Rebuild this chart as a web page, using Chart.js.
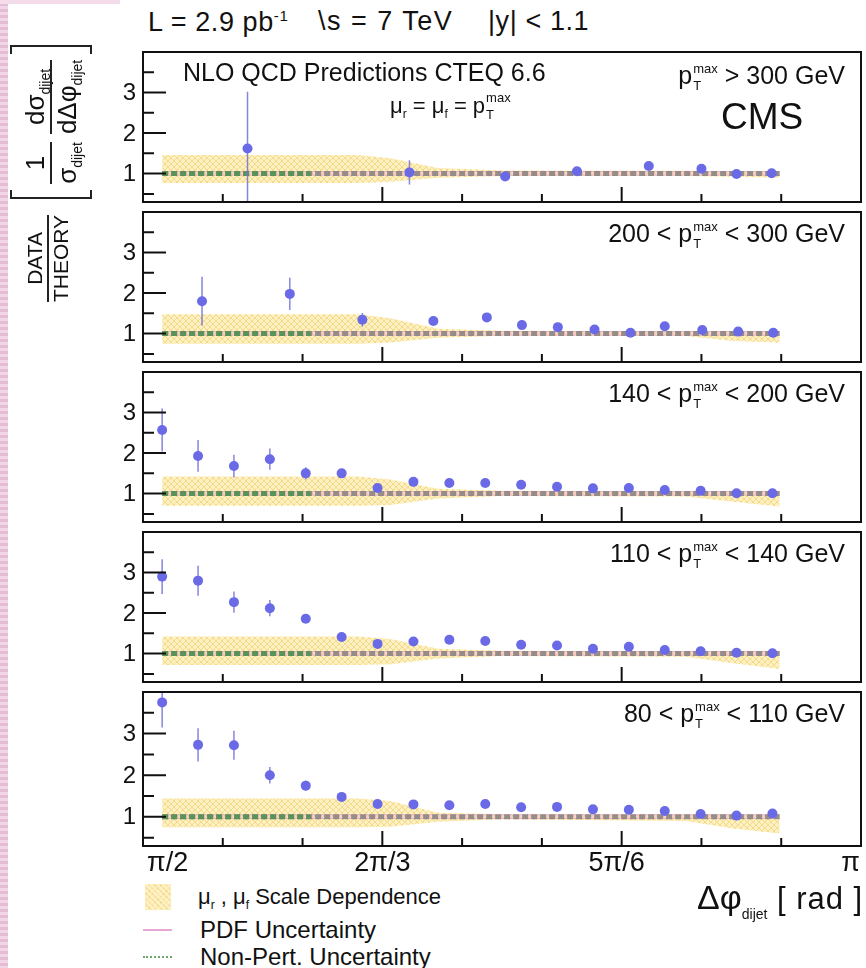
<!DOCTYPE html>
<html>
<head>
<meta charset="utf-8">
<script src="https://cdn.jsdelivr.net/npm/chart.js@4.4.0/dist/chart.umd.min.js"></script>
<style>
body { margin: 0; background: #fff; font-family: "Liberation Sans", Arial, sans-serif; color: #111; }
#page { position: relative; width: 866px; height: 968px; overflow: hidden; background: #fff; }
#edge { position: absolute; left: 0; top: 0; width: 8px; height: 968px;
  background: repeating-linear-gradient(to bottom, #f3d6e6 0 3px, #e4bcd6 3px 6px); }
#edgeTop { position: absolute; left: 0; top: 0; width: 120px; height: 4px; background: #f4dcea; }
canvas { position: absolute; left: 0; }
.t { position: absolute; white-space: nowrap; line-height: 1; }
.ss { display: inline-block; vertical-align: -6px; font-size: 13px; line-height: 17px; margin-left: 1px; }
.ss i { display: block; font-style: normal; }
sub.s { font-size: 12px; vertical-align: -5px; line-height: 0; }
#ytitle { position: absolute; left: -124px; top: 85px; width: 350px; height: 84px;
  transform: rotate(-90deg); display: flex; align-items: center; font-size: 21px; }
.frac { display: inline-flex; flex-direction: column; align-items: center; line-height: 22px; }
.frac .bar { width: 100%; height: 2px; background: #222; margin: 1px 0; }
.brk { display: inline-block; width: 7px; height: 78px; border: 2px solid #222; }
.brk.l { border-right: none; margin: 0 6px 0 16px; }
.brk.r { border-left: none; margin-left: 6px; }
.big sub.s { font-size: 14px; vertical-align: -6px; }
.leg { position: absolute; left: 143px; font-size: 24px; line-height: 1; white-space: nowrap; }
</style>
</head>
<body>
<div id="page">
  <div id="edge"></div>
  <div id="edgeTop"></div>

  <canvas id="c1" width="866" height="160" style="top:47px"></canvas>
  <canvas id="c2" width="866" height="160" style="top:207px"></canvas>
  <canvas id="c3" width="866" height="160" style="top:367px"></canvas>
  <canvas id="c4" width="866" height="160" style="top:527px"></canvas>
  <canvas id="c5" width="866" height="196" style="top:687px"></canvas>

  <div class="t" style="left:148px; top:8px; font-size:27px; letter-spacing:0.6px">L = 2.9 pb<sup style="font-size:15px">-1</sup></div>
  <div class="t" style="left:318px; top:8px; font-size:27px; letter-spacing:1.5px">\s = 7 TeV</div>
  <div class="t" style="left:488px; top:8px; font-size:27px; letter-spacing:0.6px">|y| &lt; 1.1</div>

  <div class="t" style="left:183px; top:60px; font-size:25px">NLO QCD Predictions CTEQ 6.6</div>
  <div class="t" style="left:390px; top:89px; font-size:22px">μ<sub class="s">r</sub> = μ<sub class="s">f</sub> = p<span class="ss"><i>max</i><i>T</i></span></div>
  <div class="t" style="left:721px; top:98px; font-size:37px">CMS</div>

  <div class="t" style="right:21px; top:60px; font-size:25px">p<span class="ss"><i>max</i><i>T</i></span> &gt; 300 GeV</div>
  <div class="t" style="right:21px; top:218px; font-size:25px">200 &lt; p<span class="ss"><i>max</i><i>T</i></span> &lt; 300 GeV</div>
  <div class="t" style="right:21px; top:378px; font-size:25px">140 &lt; p<span class="ss"><i>max</i><i>T</i></span> &lt; 200 GeV</div>
  <div class="t" style="right:21px; top:538px; font-size:25px">110 &lt; p<span class="ss"><i>max</i><i>T</i></span> &lt; 140 GeV</div>
  <div class="t" style="right:21px; top:698px; font-size:25px">80 &lt; p<span class="ss"><i>max</i><i>T</i></span> &lt; 110 GeV</div>

  <div id="ytitle">
    <span class="frac" style="position:relative; top:-3px"><span>DATA</span><span class="bar"></span><span>THEORY</span></span>
    <span class="brk l"></span>
    <span class="frac big" style="font-size:26px; line-height:28px"><span>1</span><span class="bar"></span><span>σ<sub class="s">dijet</sub></span></span>
    <span class="frac big" style="font-size:26px; line-height:28px; margin-left:8px"><span>dσ<sub class="s">dijet</sub></span><span class="bar"></span><span>dΔφ<sub class="s">dijet</sub></span></span>
    <span class="brk r"></span>
  </div>

  <div class="t" style="left:697px; top:880px; font-size:34px">Δφ<sub class="s" style="font-size:14px; vertical-align:-10px">dijet</sub> <span style="font-size:31px; letter-spacing:1px">[ rad ]</span></div>

  <div class="leg" style="top:884px">
    <span style="position:absolute; left:2px; top:0; width:26px; height:26px;
      background: repeating-linear-gradient(45deg, rgba(240,205,100,0.55) 0 1px, rgba(253,238,180,0.8) 1px 4px),
                  repeating-linear-gradient(-45deg, rgba(240,205,100,0.55) 0 1px, rgba(253,238,180,0.0) 1px 4px);"></span>
    <span style="position:absolute; left:55px; top:2px; font-size:22px">μ<sub class="s">r</sub> , μ<sub class="s">f</sub> Scale Dependence</span>
  </div>
  <div class="leg" style="top:918px">
    <span style="position:absolute; left:0; top:11px; width:29px; height:2px; background:#e7a6d6"></span>
    <span style="position:absolute; left:57px; top:0">PDF Uncertainty</span>
  </div>
  <div class="leg" style="top:945px">
    <span style="position:absolute; left:0; top:11px; width:29px; border-top:2px dotted #6aa86a"></span>
    <span style="position:absolute; left:57px; top:0">Non-Pert. Uncertainty</span>
  </div>
</div>

<script>
// x in degrees (pi/2 = 90, pi = 180)
const xMajor = [120, 150];
const xMinor = [100, 110, 130, 140, 160, 170];
const xLabelVals = [90, 120, 150, 180];
const xLabels = ['π/2', '2π/3', '5π/6', 'π'];
const yMajor = [1, 2, 3];
const yMinor = [0.5, 1.5, 2.5, 3.5];

// common bin centres for the three lower panels
const binX = [92.4, 96.9, 101.4, 105.9, 110.4, 114.9, 119.4, 123.9, 128.4, 132.9, 137.4, 141.9, 146.4, 150.9, 155.4, 159.9, 164.4, 168.9];

// pT > 300
const p1X = [103.1, 123.4, 135.4, 144.4, 153.4, 160.0, 164.4, 168.8];
const p1Y = [1.62, 1.03, 0.93, 1.06, 1.19, 1.12, 0.99, 1.01];
const p1Err = [1.4, 0.3, 0.08, 0.05, 0.05, 0.05, 0.04, 0.04];
// 200 - 300
const p2X = [97.4, 108.4, 117.5, 126.4, 133.1, 137.5, 142.0, 146.6, 151.1, 155.4, 160.1, 164.6, 169.0];
const p2Y = [1.80, 1.98, 1.34, 1.31, 1.40, 1.21, 1.16, 1.10, 1.02, 1.18, 1.09, 1.05, 1.02];
const p2Err = [0.6, 0.4, 0.17, 0.06, 0.06, 0.05, 0.04, 0.04, 0.04, 0.04, 0.04, 0.04, 0.04];
// 140 - 200
const p3Y = [2.57, 1.93, 1.68, 1.85, 1.50, 1.50, 1.14, 1.29, 1.26, 1.26, 1.22, 1.17, 1.13, 1.14, 1.09, 1.07, 1.01, 1.01];
const p3Err = [0.53, 0.39, 0.28, 0.26, 0.15, 0.08, 0.07, 0.06, 0.05, 0.05, 0.05, 0.05, 0.04, 0.04, 0.04, 0.04, 0.04, 0.04];
// 110 - 140
const p4Y = [2.90, 2.80, 2.27, 2.12, 1.86, 1.41, 1.24, 1.30, 1.34, 1.31, 1.22, 1.20, 1.12, 1.17, 1.09, 1.06, 1.02, 1.01];
const p4Err = [0.43, 0.37, 0.26, 0.2, 0.1, 0.07, 0.06, 0.05, 0.05, 0.05, 0.05, 0.05, 0.04, 0.04, 0.04, 0.04, 0.04, 0.04];
// 80 - 110
const p5Y = [3.75, 2.73, 2.72, 2.00, 1.75, 1.48, 1.31, 1.30, 1.28, 1.31, 1.23, 1.24, 1.18, 1.17, 1.14, 1.07, 1.03, 1.08];
const p5Err = [0.6, 0.4, 0.35, 0.2, 0.12, 0.08, 0.06, 0.05, 0.05, 0.05, 0.05, 0.05, 0.04, 0.04, 0.04, 0.04, 0.04, 0.04];

// mu_r, mu_f scale band
const bandX = [92.4, 117, 121, 127, 135, 158, 164, 169.8];
const p1Hi = [1.46, 1.46, 1.38, 1.14, 1.08, 1.07, 1.06, 1.06];
const p1Lo = [0.77, 0.77, 0.80, 0.90, 0.94, 0.94, 0.92, 0.90];
const p2Hi = [1.48, 1.48, 1.38, 1.12, 1.07, 1.06, 1.06, 1.06];
const p2Lo = [0.75, 0.75, 0.78, 0.90, 0.95, 0.94, 0.82, 0.78];
const p3Hi = [1.42, 1.42, 1.35, 1.12, 1.07, 1.06, 1.06, 1.06];
const p3Lo = [0.70, 0.70, 0.72, 0.88, 0.94, 0.93, 0.80, 0.68];
const p4Hi = [1.42, 1.42, 1.36, 1.12, 1.07, 1.06, 1.06, 1.06];
const p4Lo = [0.72, 0.72, 0.74, 0.88, 0.94, 0.92, 0.76, 0.62];
const p5Hi = [1.44, 1.44, 1.38, 1.10, 1.06, 1.06, 1.06, 1.06];
const p5Lo = [0.75, 0.75, 0.76, 0.88, 0.94, 0.90, 0.72, 0.60];

// PDF band, theory line, non-perturbative line
const pdfX = [92.4, 169.8];
const pdfHi = [1.05, 1.05];
const pdfLo = [0.96, 0.96];
const theoryX = [92.4, 169.8];
const theoryY = [1, 1];
const nonPertX = [92.4, 111];
const nonPertY = [1, 1];

function hatch() {
  const c = document.createElement('canvas');
  c.width = 6; c.height = 6;
  const g = c.getContext('2d');
  g.fillStyle = 'rgba(253,238,180,0.8)';
  g.fillRect(0, 0, 6, 6);
  g.strokeStyle = 'rgba(240,205,100,0.6)';
  g.lineWidth = 1;
  g.beginPath();
  g.moveTo(0, 0); g.lineTo(6, 6);
  g.moveTo(6, 0); g.lineTo(0, 6);
  g.stroke();
  return g.createPattern(c, 'repeat');
}
const bandFill = hatch();

const errorBars = {
  id: 'errorBars',
  beforeDatasetDraw(chart, args) {
    if (args.index !== 0) return;
    const ds = chart.data.datasets[0];
    const xs = chart.scales.x, ys = chart.scales.y, a = chart.chartArea, ctx = chart.ctx;
    ctx.save();
    ctx.beginPath();
    ctx.rect(a.left, a.top, a.right - a.left, a.bottom - a.top);
    ctx.clip();
    ctx.strokeStyle = 'rgba(112,112,215,0.85)';
    ctx.lineWidth = 1.5;
    ds.data.forEach((p, i) => {
      const px = xs.getPixelForValue(p.x);
      ctx.beginPath();
      ctx.moveTo(px, ys.getPixelForValue(p.y - ds.errors[i]));
      ctx.lineTo(px, ys.getPixelForValue(p.y + ds.errors[i]));
      ctx.stroke();
    });
    ctx.restore();
  }
};

const frame = {
  id: 'frame',
  afterDraw(chart, args, opts) {
    const ctx = chart.ctx, a = chart.chartArea, x = chart.scales.x, y = chart.scales.y;
    ctx.save();
    ctx.strokeStyle = '#111';
    ctx.lineWidth = 2;
    ctx.strokeRect(a.left, a.top, a.right - a.left, a.bottom - a.top);
    ctx.beginPath();
    yMajor.forEach(v => { const p = y.getPixelForValue(v); ctx.moveTo(a.left, p); ctx.lineTo(a.left + 23, p); });
    yMinor.forEach(v => { const p = y.getPixelForValue(v); ctx.moveTo(a.left, p); ctx.lineTo(a.left + 11, p); });
    xMajor.forEach(v => { const p = x.getPixelForValue(v); ctx.moveTo(p, a.bottom); ctx.lineTo(p, a.bottom - 15); });
    xMinor.forEach(v => { const p = x.getPixelForValue(v); ctx.moveTo(p, a.bottom); ctx.lineTo(p, a.bottom - 8); });
    ctx.stroke();
    ctx.fillStyle = '#111';
    ctx.font = '24px "Liberation Sans", Arial, sans-serif';
    ctx.textAlign = 'right';
    ctx.textBaseline = 'middle';
    yMajor.forEach(v => ctx.fillText(String(v), a.left - 7, y.getPixelForValue(v) + 1));
    if (opts.last) {
      ctx.font = '27px "Liberation Sans", Arial, sans-serif';
      const align = ['left', 'center', 'center', 'right'];
      const shift = [4, 0, -5, -1];
      xLabelVals.forEach((v, i) => {
        ctx.textAlign = align[i];
        ctx.fillText(xLabels[i], x.getPixelForValue(v) + shift[i], a.bottom + 18);
      });
    }
    ctx.restore();
  }
};

function xy(xs, ys) {
  return xs.map((v, i) => ({x: v, y: ys[i]}));
}

function makePanel(id, px, py, perr, hi, lo, last) {
  const none = 'rgba(0,0,0,0)';
  return new Chart(document.getElementById(id), {
    type: 'scatter',
    data: {
      datasets: [
        {type: 'scatter', data: xy(px, py), errors: perr, pointRadius: 5, backgroundColor: '#6a6ae6', borderWidth: 0},
        {type: 'line', data: xy(nonPertX, nonPertY), borderColor: 'rgba(70,150,70,0.75)', borderWidth: 5, borderDash: [6, 3], pointRadius: 0, fill: false},
        {type: 'line', data: xy(theoryX, theoryY), borderColor: 'rgba(125,125,125,0.8)', borderWidth: 5, borderDash: [6, 3], pointRadius: 0, fill: false},
        {type: 'line', data: xy(pdfX, pdfHi), borderColor: 'rgba(225,140,200,0.55)', borderWidth: 1, pointRadius: 0, fill: '+1', backgroundColor: 'rgba(240,170,215,0.35)'},
        {type: 'line', data: xy(pdfX, pdfLo), borderColor: 'rgba(225,140,200,0.55)', borderWidth: 1, pointRadius: 0, fill: false},
        {type: 'line', data: xy(bandX, hi), borderColor: none, borderWidth: 0, pointRadius: 0, fill: '+1', backgroundColor: bandFill},
        {type: 'line', data: xy(bandX, lo), borderColor: none, borderWidth: 0, pointRadius: 0, fill: false}
      ]
    },
    options: {
      responsive: false,
      animation: false,
      devicePixelRatio: 1,
      layout: {padding: {left: 143, right: 3, top: 1, bottom: last ? 37 : 1}},
      scales: {
        x: {type: 'linear', min: 90, max: 180, display: false},
        y: {type: 'linear', min: 0.3, max: 4.0, display: false}
      },
      elements: {line: {tension: 0}},
      plugins: {legend: {display: false}, tooltip: {enabled: false}, frame: {last: last}}
    },
    plugins: [errorBars, frame]
  });
}

makePanel('c1', p1X, p1Y, p1Err, p1Hi, p1Lo, false);
makePanel('c2', p2X, p2Y, p2Err, p2Hi, p2Lo, false);
makePanel('c3', binX, p3Y, p3Err, p3Hi, p3Lo, false);
makePanel('c4', binX, p4Y, p4Err, p4Hi, p4Lo, false);
makePanel('c5', binX, p5Y, p5Err, p5Hi, p5Lo, true);
</script>
</body>
</html>
